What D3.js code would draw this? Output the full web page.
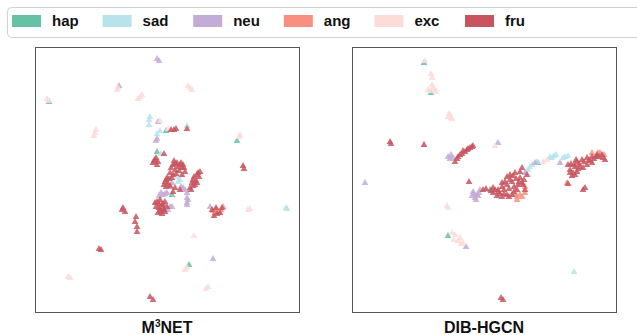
<!DOCTYPE html>
<html>
<head>
<meta charset="utf-8">
<script src="https://cdn.jsdelivr.net/npm/d3@7"></script>
<style>
  body { margin: 0; background: #fff; }
  svg { display: block; font-family: "Liberation Sans", Arial, sans-serif; }
</style>
</head>
<body>
<svg id="chart" width="637" height="335"></svg>
<script>
// emotion classes and their colours
const categories = ["hap", "sad", "neu", "ang", "exc", "fru"];
const colors = ["#66c2a5", "#b9e3ec", "#c3acd6", "#f9907f", "#fddcd8", "#c8545e"];
const panelTitles = ["M3NET", "DIB-HGCN"];

// t-SNE embeddings [x, y, class]
const m3netPoints = [
  [12,52,"exc"],[14,54,"exc"],[82,43,"exc"],[83,41,"exc"],[153,39,"exc"],[155,41,"exc"],[157,43,"exc"],
  [103,52,"exc"],[105,50,"exc"],[107,48,"exc"],[61,83,"exc"],[60,86,"exc"],[59,89,"exc"],
  [125,74,"exc"],[133,82,"exc"],[204,90,"exc"],[205,88,"exc"],[213,163,"exc"],[215,162,"exc"],
  [159,189,"exc"],[152,221,"exc"],[150,223,"exc"],[33,230,"exc"],[35,231,"exc"],[171,242,"exc"],[173,240,"exc"],
  [14,55,"hap"],[131,84,"hap"],[202,94,"hap"],[122,105,"hap"],[137,148,"hap"],[154,218,"hap"],
  [115,70,"sad"],[114,73,"sad"],[114,78,"sad"],[125,84,"sad"],[122,87,"sad"],[152,79,"sad"],
  [126,107,"sad"],[143,130,"sad"],[143,135,"sad"],[145,133,"sad"],[251,161,"sad"],[252,162,"sad"],
  [122,12,"neu"],[124,14,"neu"],[84,39,"neu"],[123,75,"neu"],[122,92,"neu"],[121,94,"neu"],
  [137,136,"neu"],[135,140,"neu"],[148,141,"neu"],[150,143,"neu"],[152,146,"neu"],
  [132,146,"neu"],[128,148,"neu"],[124,149,"neu"],[152,151,"neu"],[152,156,"neu"],[152,158,"neu"],
  [135,160,"neu"],[133,163,"neu"],[175,160,"neu"],[178,212,"neu"],
  [126,146,"neu"],[130,147,"neu"],[146,140,"neu"],[153,153,"neu"],[137,160,"neu"],
  [178,164,"ang"],[181,163,"ang"],[184,165,"ang"],[188,160,"ang"],[180,166,"ang"],[186,163,"ang"],
  [136,83,"fru"],[141,82,"fru"],[139,83,"fru"],[152,82,"fru"],[129,107,"fru"],
  [120,113,"fru"],[118,116,"fru"],[123,115,"fru"],[121,111,"fru"],[119,114,"fru"],[122,118,"fru"],
  [138,118,"fru"],[142,116,"fru"],[145,118,"fru"],[147,121,"fru"],[140,123,"fru"],[138,128,"fru"],
  [135,126,"fru"],[139,114,"fru"],[150,125,"fru"],[149,121,"fru"],
  [140,117,"fru"],[143,120,"fru"],[136,121,"fru"],[144,124,"fru"],[141,127,"fru"],[137,131,"fru"],
  [146,116,"fru"],[148,118,"fru"],
  [132,131,"fru"],[130,135,"fru"],[133,137,"fru"],[147,128,"fru"],[145,143,"fru"],
  [131,133,"fru"],[134,132,"fru"],[129,138,"fru"],[135,139,"fru"],[131,140,"fru"],
  [158,133,"fru"],[162,128,"fru"],[163,126,"fru"],[160,138,"fru"],[155,141,"fru"],[161,134,"fru"],[165,125,"fru"],
  [159,130,"fru"],[164,130,"fru"],[157,136,"fru"],[162,136,"fru"],[158,139,"fru"],[156,143,"fru"],
  [138,145,"fru"],[140,141,"fru"],
  [122,155,"fru"],[125,153,"fru"],[130,155,"fru"],[127,158,"fru"],
  [120,156,"fru"],[124,157,"fru"],[128,157,"fru"],[121,160,"fru"],[129,163,"fru"],[124,161,"fru"],
  [125,163,"fru"],[128,161,"fru"],[132,160,"fru"],[123,166,"fru"],[130,165,"fru"],[126,165,"fru"],[127,167,"fru"],
  [87,163,"fru"],[90,165,"fru"],[88,161,"fru"],
  [101,170,"fru"],[100,175,"fru"],[102,180,"fru"],[102,185,"fru"],
  [177,163,"fru"],[182,167,"fru"],[185,166,"fru"],[187,161,"fru"],[179,169,"fru"],[181,161,"fru"],
  [208,119,"fru"],[209,122,"fru"],[64,202,"fru"],[66,203,"fru"],[115,250,"fru"],[118,253,"fru"]
];

const dibPoints = [
  [73,14,"exc"],[79,27,"exc"],[80,31,"exc"],[76,43,"exc"],[83,43,"exc"],[81,41,"exc"],
  [78,44,"exc"],[80,38,"exc"],[84,45,"exc"],[97,67,"exc"],[100,72,"exc"],
  [96,70,"exc"],[99,71,"exc"],[98,68,"exc"],[72,97,"exc"],[143,99,"exc"],[96,161,"exc"],[95,159,"exc"],
  [103,188,"exc"],[108,191,"exc"],[111,196,"exc"],[100,186,"exc"],[102,193,"exc"],[106,194,"exc"],[109,197,"exc"],
  [191,115,"exc"],[195,113,"exc"],
  [72,16,"hap"],[79,46,"hap"],[138,143,"hap"],[186,116,"hap"],[96,189,"hap"],
  [202,109,"sad"],[200,111,"sad"],[180,118,"sad"],[176,123,"sad"],[174,126,"sad"],
  [198,110,"sad"],[204,108,"sad"],[211,111,"sad"],[185,115,"sad"],[178,120,"sad"],
  [216,109,"sad"],[213,110,"sad"],[222,225,"sad"],
  [146,96,"neu"],[96,110,"neu"],[101,111,"neu"],[98,112,"neu"],[99,108,"neu"],
  [121,145,"neu"],[125,148,"neu"],[123,151,"neu"],[128,143,"neu"],[126,149,"neu"],
  [122,147,"neu"],[127,146,"neu"],[124,153,"neu"],[120,149,"neu"],
  [173,126,"neu"],[183,116,"neu"],[208,116,"neu"],[13,136,"neu"],[114,200,"neu"],
  [168,148,"ang"],[173,146,"ang"],[165,150,"ang"],[173,140,"ang"],[248,106,"ang"],[240,106,"ang"],
  [252,108,"ang"],[246,106,"ang"],[170,150,"ang"],[163,148,"ang"],
  [215,136,"ang"],[165,153,"ang"],
  [38,95,"fru"],[39,97,"fru"],[72,98,"fru"],
  [103,115,"fru"],[108,108,"fru"],[113,105,"fru"],[118,101,"fru"],[120,100,"fru"],
  [105,112,"fru"],[110,107,"fru"],[115,103,"fru"],[106,110,"fru"],[111,104,"fru"],[116,102,"fru"],[121,99,"fru"],
  [117,135,"fru"],
  [131,143,"fru"],[141,141,"fru"],[146,145,"fru"],[150,140,"fru"],[153,135,"fru"],[155,130,"fru"],
  [158,128,"fru"],[160,135,"fru"],[155,148,"fru"],[160,148,"fru"],[165,143,"fru"],[166,138,"fru"],
  [168,131,"fru"],[163,126,"fru"],[141,146,"fru"],[150,150,"fru"],[146,143,"fru"],
  [143,143,"fru"],[148,147,"fru"],[152,143,"fru"],[157,142,"fru"],[162,140,"fru"],[158,133,"fru"],
  [164,132,"fru"],[161,129,"fru"],[167,135,"fru"],[152,147,"fru"],[157,150,"fru"],[145,149,"fru"],
  [162,145,"fru"],[170,136,"fru"],[168,125,"fru"],[172,133,"fru"],[150,136,"fru"],[155,138,"fru"],
  [139,144,"fru"],[134,142,"fru"],
  [170,121,"fru"],[175,128,"fru"],[171,138,"fru"],
  [216,118,"fru"],[218,123,"fru"],[223,120,"fru"],[225,115,"fru"],[230,113,"fru"],[235,111,"fru"],
  [240,110,"fru"],[245,108,"fru"],[251,111,"fru"],[221,126,"fru"],[225,125,"fru"],[228,120,"fru"],
  [235,118,"fru"],[240,116,"fru"],[223,128,"fru"],
  [219,117,"fru"],[222,118,"fru"],[227,117,"fru"],[232,115,"fru"],[237,113,"fru"],[242,112,"fru"],
  [247,110,"fru"],[250,108,"fru"],[220,129,"fru"],[226,122,"fru"],[231,121,"fru"],[238,114,"fru"],
  [244,110,"fru"],[253,113,"fru"],[218,126,"fru"],[224,113,"fru"],
  [231,143,"fru"],[233,141,"fru"],[216,137,"fru"],[173,143,"fru"],[149,251,"fru"],[151,253,"fru"]
];

const svg = d3.select("#chart");

// legend
const legend = svg.append("g");
legend.append("rect")
  .attr("x", 7.5).attr("y", 7.5)
  .attr("width", 640).attr("height", 30)
  .attr("rx", 4)
  .attr("fill", "#fff").attr("stroke", "#d0d0d0");

const legendX = d3.scalePoint().domain(categories).range([12, 465]);
const color = d3.scaleOrdinal().domain(categories).range(colors);

const item = legend.selectAll(".item")
  .data(categories)
  .enter().append("g")
  .attr("class", "item")
  .attr("transform", d => "translate(" + legendX(d) + ",15)");
item.append("rect")
  .attr("width", 29).attr("height", 12)
  .attr("fill", d => color(d));
item.append("text")
  .attr("x", 40).attr("y", 11)
  .attr("font-size", 15).attr("font-weight", "bold")
  .attr("fill", "#111")
  .text(d => d);

// panels
const panels = [
  { left: 35, points: m3netPoints, title: panelTitles[0] },
  { left: 352, points: dibPoints, title: panelTitles[1] }
];
const panelTop = 47, panelSize = 264;
const order = d => categories.indexOf(d[2]);

panels.forEach((p, i) => {
  const x = d3.scaleLinear().domain([0, 264]).range([p.left, p.left + panelSize]);
  const y = d3.scaleLinear().domain([0, 265]).range([panelTop, panelTop + 265]);

  svg.append("rect")
    .attr("x", p.left + 0.5).attr("y", panelTop + 0.5)
    .attr("width", panelSize).attr("height", 265)
    .attr("fill", "#fff").attr("stroke", "#555");

  const pts = p.points.slice().sort((a, b) => order(a) - order(b));
  svg.append("g").selectAll("path")
    .data(pts)
    .enter().append("path")
    .attr("d", d3.symbol().type(d3.symbolTriangle).size(20))
    .attr("transform", d => "translate(" + x(d[0]) + "," + y(d[1]) + ")")
    .attr("fill", d => color(d[2]))
    .attr("fill-opacity", 0.85);

  const t = svg.append("text")
    .attr("x", p.left + panelSize / 2).attr("y", 333)
    .attr("text-anchor", "middle")
    .attr("font-size", 16).attr("font-weight", "bold")
    .attr("fill", "#111");
  if (i === 0) {
    t.append("tspan").text("M");
    t.append("tspan").attr("font-size", 10).attr("dy", -6).text("3");
    t.append("tspan").attr("dy", 6).text("NET");
  } else {
    t.text(p.title);
  }
});
</script>
</body>
</html>
